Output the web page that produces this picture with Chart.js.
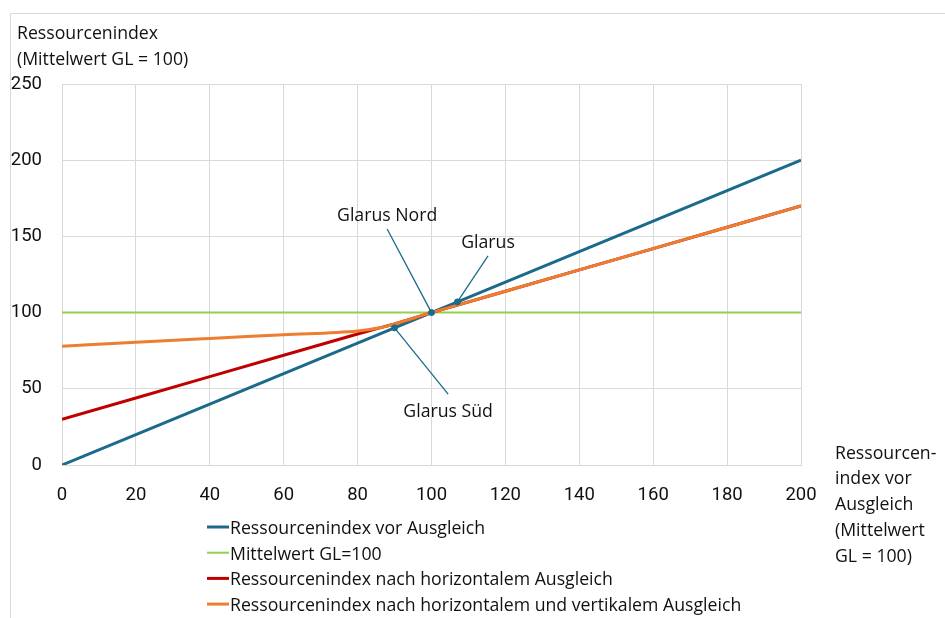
<!DOCTYPE html>
<html>
<head>
<meta charset="utf-8">
<script src="https://cdn.jsdelivr.net/npm/chart.js@4"></script>
<style>
html,body{margin:0;padding:0;background:#fff;}
#wrap{position:relative;width:945px;height:618px;}
canvas{display:block;}
</style>
</head>
<body>
<div id="wrap"><canvas id="c" width="945" height="618"></canvas></div>
<script>
// ---- data ----
const xBlue = [0, 20, 40, 60, 80, 100, 120, 140, 160, 180, 200];
const yBlue = [0, 20, 40, 60, 80, 100, 120, 140, 160, 180, 200];
const xGreen = [0, 200];
const yGreen = [100, 100];
const xRed = [0, 20, 40, 60, 80, 86, 90, 100, 120, 140, 160, 180, 200];
const yRed = [30, 44, 58, 72, 86, 90, 92.5, 100, 114, 128, 142, 156, 170];
const xOrange = [0, 20, 40, 60, 80, 86, 90, 100, 120, 140, 160, 180, 200];
const yOrange = [78, 80.5, 83, 85.5, 88, 90, 92.5, 100, 114, 128, 142, 156, 170];
const seriesNames = [
  'Ressourcenindex vor Ausgleich',
  'Mittelwert GL=100',
  'Ressourcenindex nach horizontalem Ausgleich',
  'Ressourcenindex nach horizontalem und vertikalem Ausgleich'
];
const pointNames = ['Glarus Süd', 'Glarus Nord', 'Glarus'];
const pointX = [90, 100, 107];
const pointY = [90, 100, 107];
// label anchor (data units) for each annotation
const labelX = [104.5, 88, 115.3];
const labelY = [36, 164.7, 147];
const xTicks = [0, 20, 40, 60, 80, 100, 120, 140, 160, 180, 200];
const yTitle = ['Ressourcenindex', '(Mittelwert GL = 100)'];
const xTitle = ['Ressourcen-', 'index vor', 'Ausgleich', '(Mittelwert', 'GL = 100)'];

const colors = ['#1B6A8A', '#92D050', '#C00000', '#ED7D31'];
const FONT = '"Open Sans", "Noto Sans", sans-serif';
const TICKFONT = 'Roboto, "Noto Sans", sans-serif';

const zip = (xs, ys) => xs.map((x, i) => ({x: x, y: ys[i]}));

const frame = {
  id: 'frame',
  beforeDraw(chart) {
    const ctx = chart.ctx;
    ctx.save();
    ctx.fillStyle = '#fff';
    ctx.fillRect(0, 0, chart.width, chart.height);
    ctx.strokeStyle = '#d9d9d9';
    ctx.lineWidth = 1;
    ctx.beginPath();
    ctx.moveTo(10.5, chart.height);
    ctx.lineTo(10.5, 13.5);
    ctx.lineTo(chart.width, 13.5);
    ctx.stroke();
    ctx.restore();
  }
};

const extras = {
  id: 'extras',
  afterDatasetsDraw(chart) {
    const ctx = chart.ctx;
    const xs = chart.scales.x, ys = chart.scales.y;
    ctx.save();
    ctx.strokeStyle = colors[0];
    ctx.lineWidth = 1.3;
    ctx.font = '17.7px ' + FONT;
    ctx.fillStyle = '#111';
    ctx.textAlign = 'center';
    ctx.textBaseline = 'middle';
    for (let i = 0; i < pointNames.length; i++) {
      const lx = xs.getPixelForValue(labelX[i]);
      const ly = ys.getPixelForValue(labelY[i]);
      const px = xs.getPixelForValue(pointX[i]);
      const py = ys.getPixelForValue(pointY[i]);
      const sy = ly + (py > ly ? 15 : -16);
      ctx.beginPath();
      ctx.moveTo(lx, sy);
      ctx.lineTo(px, py);
      ctx.stroke();
      ctx.fillText(pointNames[i], lx, ly + 1.5);
    }
    ctx.restore();
  },
  afterDraw(chart) {
    const ctx = chart.ctx;
    ctx.save();
    ctx.fillStyle = '#111';
    ctx.font = '17.7px ' + FONT;
    ctx.textAlign = 'left';
    ctx.textBaseline = 'middle';
    yTitle.forEach((t, i) => ctx.fillText(t, 17, 34 + i * 26));
    xTitle.forEach((t, i) => ctx.fillText(t, 835, 453.5 + i * 25.8));
    for (let i = 0; i < seriesNames.length; i++) {
      const y = 527 + i * 25.7;
      ctx.strokeStyle = colors[i];
      ctx.lineWidth = i === 1 ? 2 : 3;
      ctx.beginPath();
      ctx.moveTo(207, y);
      ctx.lineTo(229, y);
      ctx.stroke();
      ctx.fillText(seriesNames[i], 230, y + 2);
    }
    ctx.restore();
  }
};

new Chart(document.getElementById('c'), {
  type: 'scatter',
  data: {
    datasets: [
      {label: seriesNames[1], data: zip(xGreen, yGreen), borderColor: colors[1], borderWidth: 2, showLine: true, pointRadius: 0, order: 4},
      {label: seriesNames[0], data: zip(xBlue, yBlue), borderColor: colors[0], borderWidth: 3, showLine: true, pointRadius: 0, order: 3},
      {label: seriesNames[2], data: zip(xRed, yRed), borderColor: colors[2], borderWidth: 3, showLine: true, pointRadius: 0, order: 2},
      {label: seriesNames[3], data: zip(xOrange, yOrange), borderColor: colors[3], borderWidth: 3, showLine: true, pointRadius: 0, order: 1, cubicInterpolationMode: 'monotone'},
      {label: 'Gemeinden', data: zip(pointX, pointY), backgroundColor: colors[0], borderColor: colors[0], pointRadius: 3, showLine: false, order: 0}
    ]
  },
  options: {
    responsive: false,
    animation: false,
    layout: {padding: {left: 0, top: 84, right: 144, bottom: 0}},
    plugins: {legend: {display: false}, tooltip: {enabled: false}},
    scales: {
      x: {
        type: 'linear', min: 0, max: 200,
        afterBuildTicks: s => { s.ticks = xTicks.map(v => ({value: v})); },
        afterFit: s => { s.height = 153; },
        grid: {color: '#d9d9d9', lineWidth: 1, drawTicks: false},
        border: {color: '#d9d9d9'},
        ticks: {padding: 19, color: '#111', font: {family: TICKFONT, size: 18.5}}
      },
      y: {
        type: 'linear', min: 0, max: 250,
        ticks: {stepSize: 50, padding: 20, color: '#111', font: {family: TICKFONT, size: 18.5}},
        afterFit: s => { s.width = 62; },
        grid: {color: '#d9d9d9', lineWidth: 1, drawTicks: false},
        border: {color: '#d9d9d9'}
      }
    }
  },
  plugins: [frame, extras]
});
</script>
</body>
</html>
